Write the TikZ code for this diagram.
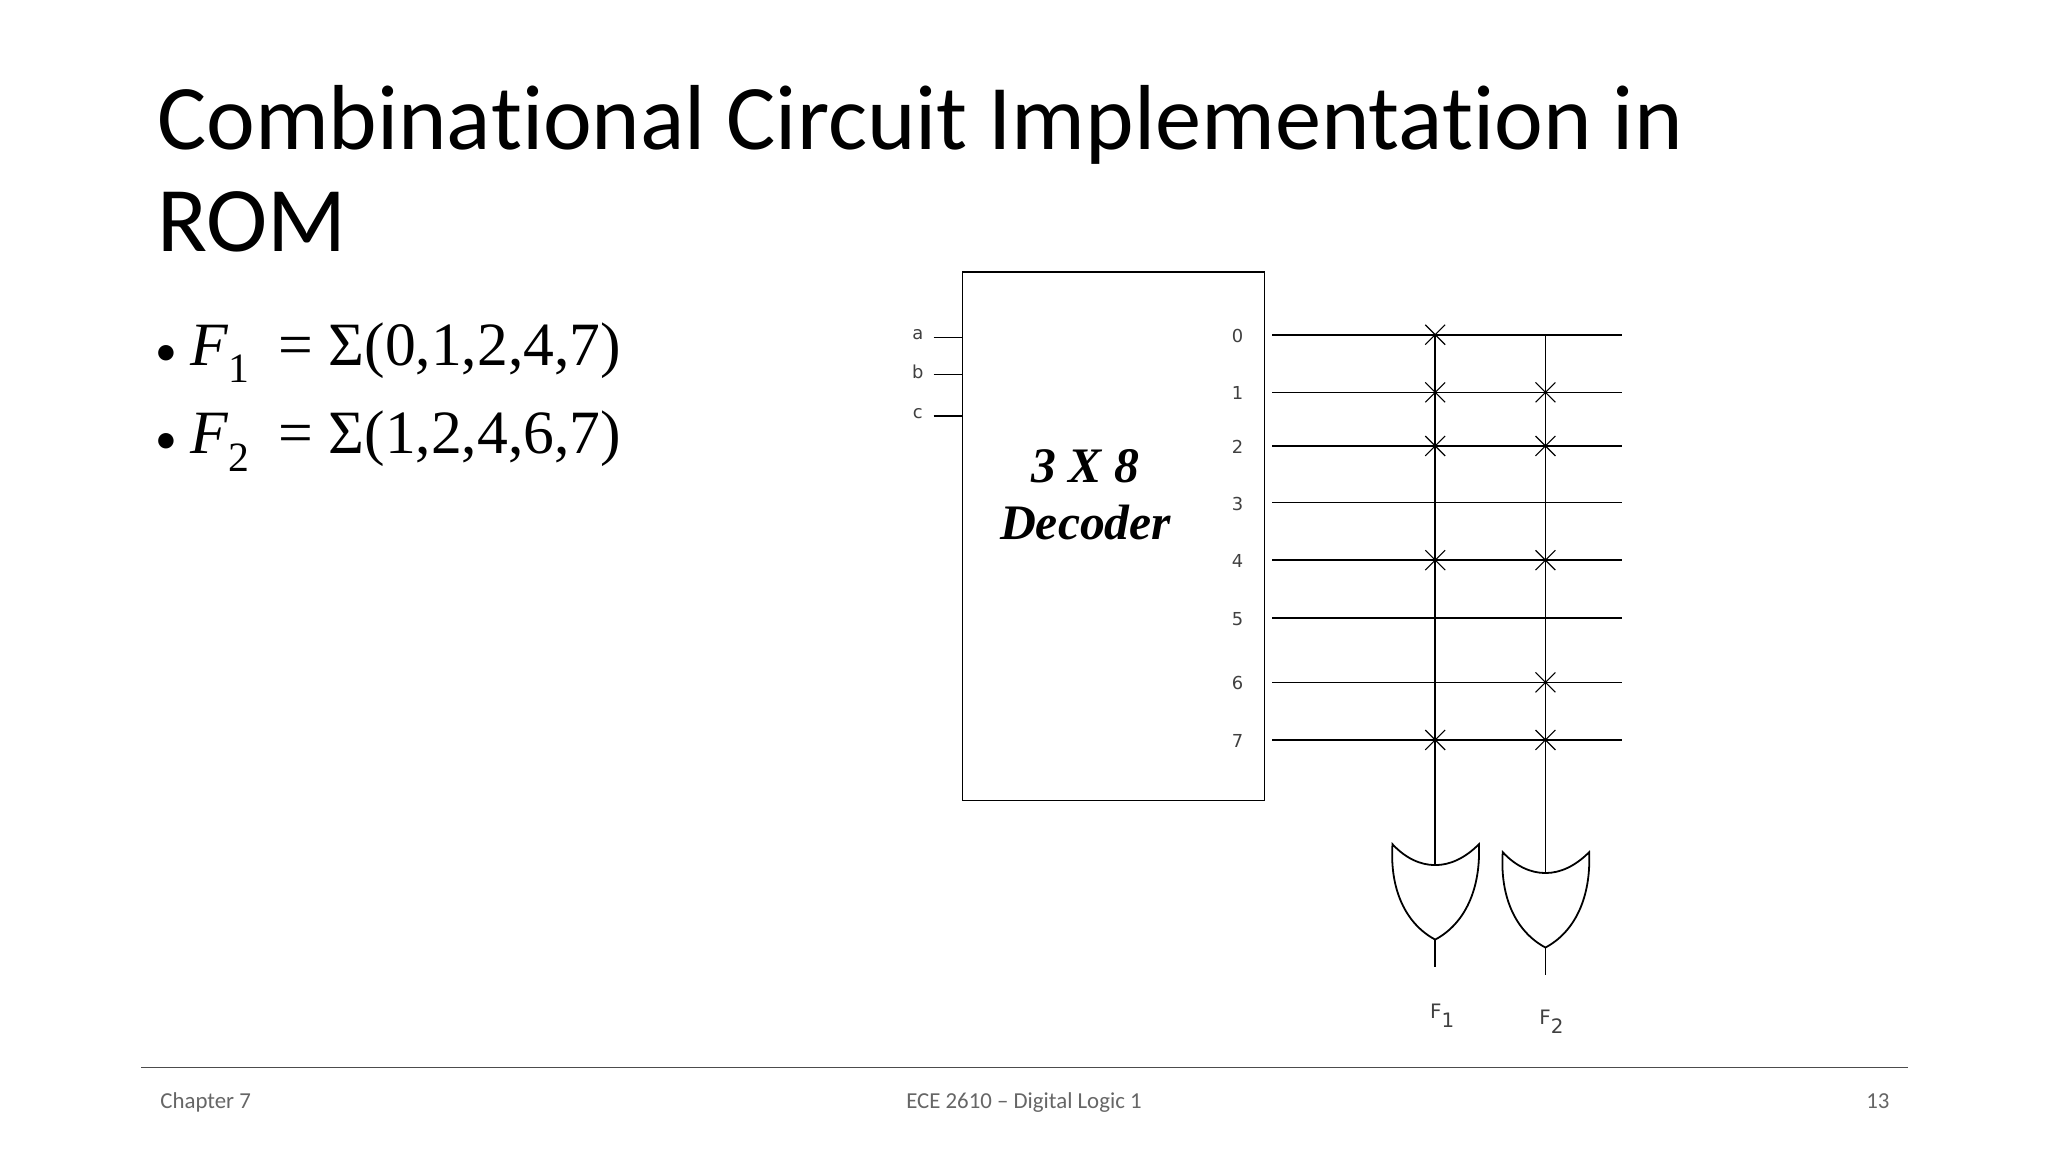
\documentclass[tikz,border=0pt]{standalone}
\usepackage{fontspec}
\setmainfont[Ligatures=NoCommon]{Carlito}
\newfontfamily\serifF{Liberation Serif}
\newfontfamily\smallsans{DejaVu Sans}
\begin{document}
\begin{tikzpicture}[x=1pt,y=-1pt,
  wire/.style={line width=1.6pt},
  xmark/.style={line width=1.1pt},
  pin/.style={font=\smallsans\fontsize{18}{20}\selectfont, text=black!75},
  gate/.style={line width=1.8pt},
  foot/.style={font=\fontsize{23}{26}\selectfont, text=black!60, anchor=base}]
\useasboundingbox (0,0) rectangle (2062,1160);
\fill[white] (0,0) rectangle (2062,1160);
% title
\node[anchor=base west, inner sep=0, font=\fontsize{93}{110}\selectfont] (t1) at (158,151) {Combina\kern0pt tional Circuit Implementa\kern0pt tion in};
\node[anchor=base west, inner sep=0, font=\fontsize{93}{110}\selectfont] (t2) at (158,253) {ROM};
% bullets
\node[anchor=base west, inner sep=0, font=\fontsize{62}{68}\selectfont] (b1) at (156,368) {{\fontsize{44}{48}\selectfont\textbullet}\ {\serifF\itshape F}\raisebox{-0.28em}{\serifF\fontsize{42}{44}\selectfont 1}\ {\serifF\ =\ Σ(0,1,2,4,7)}};
\node[anchor=base west, inner sep=0, font=\fontsize{62}{68}\selectfont] (b2) at (156,457) {{\fontsize{44}{48}\selectfont\textbullet}\ {\serifF\itshape F}\raisebox{-0.28em}{\serifF\fontsize{42}{44}\selectfont 2}\ {\serifF\ =\ Σ(1,2,4,6,7)}};
% decoder
\node[draw, line width=1.6pt, minimum width=304pt, minimum height=532pt, inner sep=0] (dec) at (1121,540) {};
\node[font=\serifF\bfseries\itshape\fontsize{50}{58}\selectfont, align=center] (dlab) at (1093,498) {3 X 8\\Decoder};
% inputs
\foreach \n/\y in {a/340,b/377,c/419}{
  \node[pin] (in\n) at (924,\y-3) {\n};
  \coordinate (s\n) at (940,\y);
  \coordinate (e\n) at (dec.west |- 0,\y);
  \draw[wire] (s\n) -- (e\n);
}
% outputs
\foreach \i/\y in {0/337,1/395,2/449,3/506,4/564,5/622,6/687,7/745}{
  \node[pin] (n\i) at (1246,\y+1) {\i};
  \coordinate (o\i) at (1281,\y);
  \coordinate (r\i) at (1633,\y);
  \draw[wire] (o\i) -- (r\i);
}
% verticals
\coordinate (v1) at (1445,337);
\coordinate (v2) at (1556,337);
\coordinate (g1) at (1445,871);
\coordinate (g2) at (1556,878);
\draw[wire] (v1) -- (g1);
\draw[wire] (v2) -- (g2);
% crosses
\foreach \x/\ys in {1445/{337,395,449,564,745},1556/{395,449,564,687,745}}{
  \foreach \y in \ys {
    \draw[xmark] (\x-10,\y-10) -- (\x+10,\y+10) (\x-10,\y+10) -- (\x+10,\y-10);
  }
}
% OR gates
\foreach \c/\t/\k in {1445/850/1,1556/858/2}{
  \draw[gate] (\c-43,\t) .. controls (\c-30,\t+14) and (\c-15,\t+21) .. (\c,\t+21)
    .. controls (\c+15,\t+21) and (\c+30,\t+14) .. (\c+44,\t)
    .. controls (\c+46,\t+45) and (\c+30,\t+80) .. (\c,\t+96)
    .. controls (\c-30,\t+80) and (\c-46,\t+45) .. cycle;
  \coordinate (go\k) at (\c,\t+96);
  \coordinate (ge\k) at (\c,\t+124);
  \draw[wire] (go\k) -- (ge\k);
}
\node[font=\smallsans\fontsize{20}{22}\selectfont, text=black!75] (f1) at (1452,1023) {F\raisebox{-0.45em}{1}};
\node[font=\smallsans\fontsize{20}{22}\selectfont, text=black!75] (f2) at (1562,1029) {F\raisebox{-0.45em}{2}};
% footer
\coordinate (la) at (142,1075);
\coordinate (lb) at (1921,1075);
\draw[line width=1.5pt, black!70] (la) -- (lb);
\node[foot, anchor=base west] (c7) at (158,1116) {Chapter 7};
\node[foot] (ece) at (1031,1116) {ECE 2610 – Digital Logic 1};
\node[foot, anchor=base east] (pg) at (1906,1116) {13};
\end{tikzpicture}
\end{document}
